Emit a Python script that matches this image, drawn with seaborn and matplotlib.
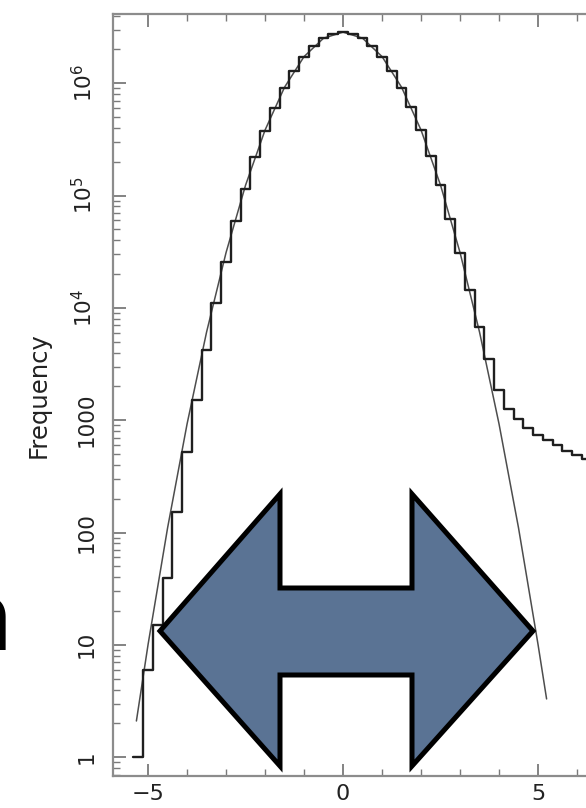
import numpy as np
import matplotlib
matplotlib.use("Agg")
import matplotlib.pyplot as plt
import seaborn as sns
from matplotlib.patches import Polygon
from matplotlib.ticker import (FixedLocator, FixedFormatter, LogLocator,
                               MultipleLocator, NullFormatter)

# ---------------- data ----------------
bin_centers = [-5.25, -5.0, -4.75, -4.5, -4.25, -4.0, -3.75, -3.5, -3.25, -3.0,
               -2.75, -2.5, -2.25, -2.0, -1.75, -1.5, -1.25, -1.0, -0.75, -0.5,
               -0.25, 0.0, 0.25, 0.5, 0.75, 1.0, 1.25, 1.5, 1.75, 2.0,
               2.25, 2.5, 2.75, 3.0, 3.25, 3.5, 3.75, 4.0, 4.25, 4.5,
               4.75, 5.0, 5.25, 5.5, 5.75, 6.0, 6.25, 6.5]
bin_counts = [1, 6, 15, 39, 151, 521, 1510, 4220, 10960, 25700,
              58900, 114800, 218800, 371500, 602600, 912000, 1288000, 1718000, 2138000, 2512000,
              2754000, 2851000, 2750000, 2510000, 2140000, 1720000, 1290000, 912000, 609500, 380200,
              223900, 123000, 61700, 30900, 14450, 6760, 3470, 1860, 1260, 1035,
              851, 741, 661, 603, 537, 490, 447, 407]

fit_x = [-5.3, -5.0, -4.5, -4.0, -3.5, -3.0, -2.5, -2.0, -1.5, -1.0, -0.5, 0.0,
         0.5, 1.0, 1.5, 2.0, 2.5, 3.0, 3.5, 4.0, 4.5, 5.0, 5.22]
fit_y = [2.1, 10.1, 110, 927, 6090, 31100, 123700, 382800, 921300, 1726000, 2515000, 2851000,
         2515000, 1726000, 921300, 382800, 123700, 31100, 6090, 927, 110, 10.1, 3.3]

ytick_values = [1, 10, 100, 1000, 1e4, 1e5, 1e6]
ytick_labels = ["1", "10", "100", "1000", r"$10^{4}$", r"$10^{5}$", r"$10^{6}$"]
xtick_values = [-5, 0, 5]
xtick_labels = ["\u22125", "0", "5"]
ylabel_text = "Frequency"
side_text = "n"

# ---------------- figure ----------------
sns.set_style("ticks")
plt.rcParams["font.family"] = ["DejaVu Sans"]

W, H = 586, 808
fig = plt.figure(figsize=(W / 100, H / 100), dpi=100)
fig.patch.set_facecolor("white")

ax_l, ax_r, ax_t, ax_b = 113, 616, 14, 776
ax = fig.add_axes([ax_l / W, (H - ax_b) / H, (ax_r - ax_l) / W, (ax_b - ax_t) / H])
ax.set_facecolor("white")

sns.lineplot(x=fit_x, y=fit_y, ax=ax, color="#4d4d4d", linewidth=1.1, zorder=2)
sns.histplot(x=bin_centers, weights=bin_counts, binwidth=0.25, binrange=(-5.375, 6.625),
             element="step", fill=False, color="#1f1f1f", linewidth=1.7, ax=ax, zorder=3)

ax.set_yscale("log")
ax.set_xlim(-5.9, 7.0)
ax.set_ylim(0.68, 4.13e6)

ax.xaxis.set_major_locator(FixedLocator(xtick_values))
ax.xaxis.set_major_formatter(FixedFormatter(xtick_labels))
ax.xaxis.set_minor_locator(MultipleLocator(1))
ax.yaxis.set_major_locator(FixedLocator(ytick_values))
ax.yaxis.set_major_formatter(FixedFormatter(ytick_labels))
ax.yaxis.set_minor_locator(LogLocator(base=10, subs=range(2, 10), numticks=30))
ax.yaxis.set_minor_formatter(NullFormatter())

ax.tick_params(which="both", direction="in", top=True, right=True, color="#7a7a7a")
ax.tick_params(which="major", length=9, width=1.3)
ax.tick_params(which="minor", length=5, width=1.0)
ax.tick_params(axis="x", labelsize=16, pad=6, labelcolor="#222222")
ax.tick_params(axis="y", labelsize=15.5, pad=12, labelrotation=90, labelcolor="#222222")
for lab in ax.get_yticklabels():
    lab.set_va("center")

for sp in ax.spines.values():
    sp.set_visible(True)
    sp.set_color("#8c8c8c")
    sp.set_linewidth(1.6)

ax.set_xlabel("")
ax.set_ylabel(ylabel_text, fontsize=17.5, color="#222222")
ax.yaxis.set_label_coords((51 - ax_l) / (ax_r - ax_l), 0.5)

# ---------------- slide overlay: double arrow and cut-off text ----------------
ov = fig.add_axes([0, 0, 1, 1])
ov.set_xlim(0, W)
ov.set_ylim(H, 0)
ov.axis("off")
ov.patch.set_alpha(0)

arrow_pts = [(160, 631), (280, 494), (280, 588), (412, 588), (412, 494), (533, 631),
             (412, 766), (412, 675), (280, 675), (280, 766)]
ov.add_patch(Polygon(arrow_pts, closed=True, facecolor="#5a7394", edgecolor="black",
                     linewidth=3.6, joinstyle="miter", zorder=5))
ov.text(12, 650, side_text, ha="right", va="baseline", fontsize=74,
        family=["Lato", "DejaVu Sans"], color="black")

fig.savefig("out.png", dpi=100)
